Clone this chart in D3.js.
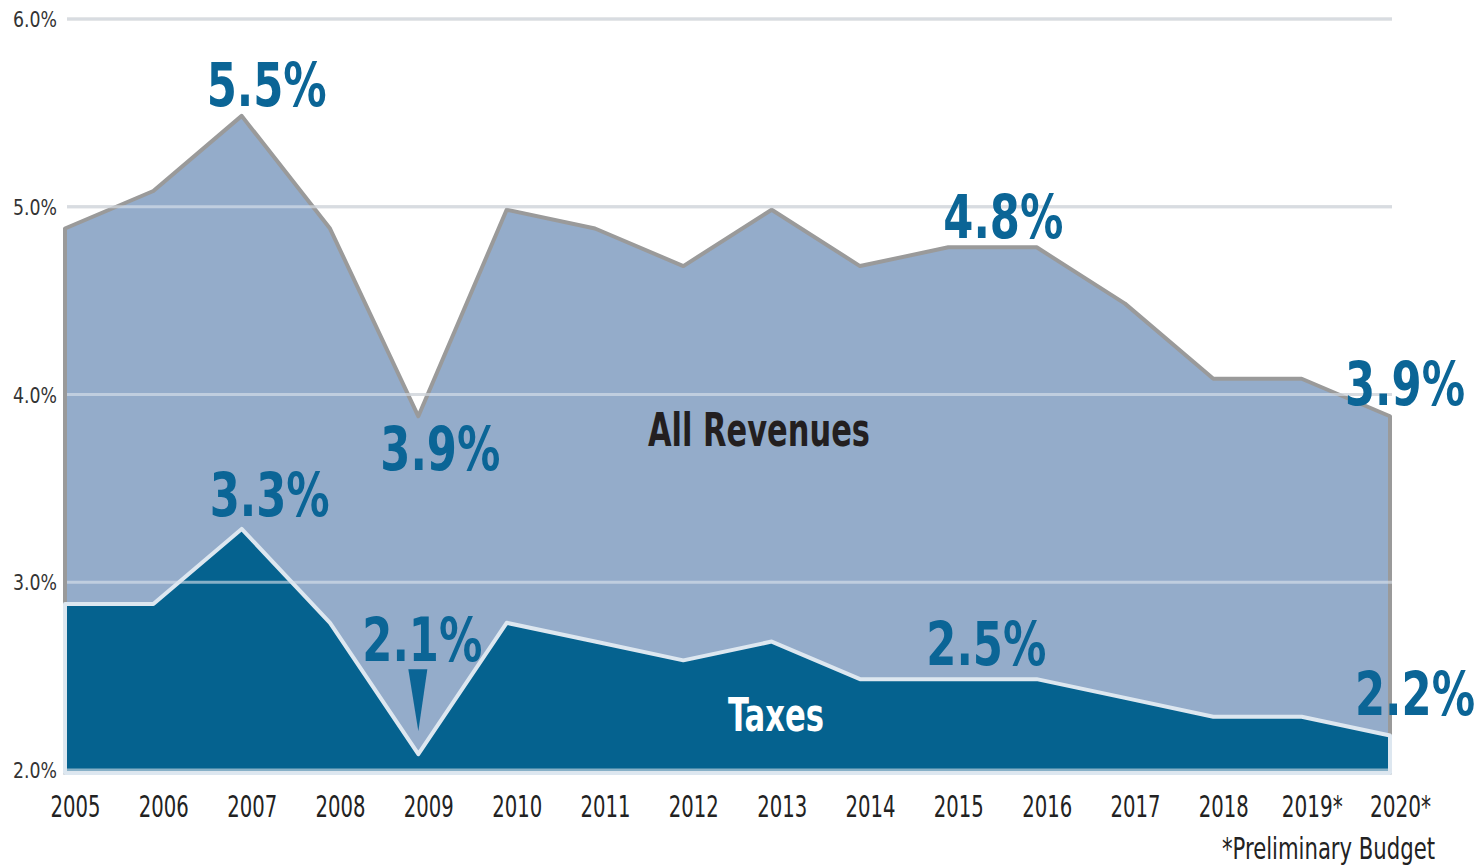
<!DOCTYPE html>
<html><head><meta charset="utf-8">
<script src="https://cdn.jsdelivr.net/npm/d3@7"></script>
<style>
body{margin:0;background:#fff;}
svg{display:block;}
text{font-family:"Liberation Sans Narrow","DejaVu Sans Condensed","Liberation Sans",sans-serif;}
</style></head>
<body>
<svg id="chart" width="1483" height="866"></svg>
<script>
const years = ["2005","2006","2007","2008","2009","2010","2011","2012","2013","2014","2015","2016","2017","2018","2019*","2020*"];
const allRevenues = [4.9,5.1,5.5,4.9,3.9,5.0,4.9,4.7,5.0,4.7,4.8,4.8,4.5,4.1,4.1,3.9];
const taxes = [2.9,2.9,3.3,2.8,2.1,2.8,2.7,2.6,2.7,2.5,2.5,2.5,2.4,2.3,2.3,2.2];
const yTicks = [2,3,4,5,6];
const revCallouts = [{i:2,text:"5.5%"},{i:10,text:"4.8%"},{i:4,text:"3.9%"},{i:15,text:"3.9%"}];
const taxCallouts = [{i:2,text:"3.3%"},{i:4,text:"2.1%"},{i:10,text:"2.5%"},{i:15,text:"2.2%"}];

const svg = d3.select("#chart");
const x = d3.scalePoint().domain(years).range([65,1390]);
const y = d3.scaleLinear().domain([2,6]).range([770,19]);

const area = (vals) => d3.area()
  .x((d,i)=>x(years[i])).y0(y(2)).y1(d=>y(d)).curve(d3.curveLinear)(vals);

// gridlines beneath (visible on white)
svg.append("g").selectAll("line").data(yTicks).join("line")
  .attr("x1",67).attr("x2",1392).attr("y1",d=>y(d)).attr("y2",d=>y(d))
  .attr("stroke","#cfcfcf").attr("stroke-width",3);

// areas (the original art sits a few pixels below its gridlines)
const areas = svg.append("g").attr("transform","translate(0,3)");
areas.append("path").attr("d",area(allRevenues))
  .attr("fill","#94acca").attr("stroke","#9a9a9a").attr("stroke-width",4).attr("stroke-linejoin","round");
areas.append("path").attr("d",area(taxes))
  .attr("fill","#05628f").attr("stroke","#dde7f0").attr("stroke-width",4).attr("stroke-linejoin","round");

// gridlines on top
svg.append("g").selectAll("line").data(yTicks).join("line")
  .attr("x1",67).attr("x2",1392).attr("y1",d=>y(d)).attr("y2",d=>y(d))
  .attr("stroke","#dde4ec").attr("stroke-opacity",0.6).attr("stroke-width",3);

// y axis labels
const yAxis = svg.append("g").attr("transform","translate(57,0)")
  .call(d3.axisLeft(y).tickValues(yTicks).tickSize(0).tickPadding(0).tickFormat(d=>d3.format(".1f")(d)+"%"));
yAxis.select(".domain").remove();
yAxis.selectAll("text").attr("font-size",21).attr("fill","#333").attr("font-family",null)
  .attr("dy","0.36em").attr("textLength",44).attr("lengthAdjust","spacingAndGlyphs");

// x axis labels
const xAxis = svg.append("g").attr("transform","translate(10,817)")
  .call(d3.axisBottom(x).tickSize(0).tickPadding(0));
xAxis.select(".domain").remove();
xAxis.selectAll("text").attr("font-size",31).attr("fill","#222").attr("font-family",null).attr("dy",0)
  .attr("textLength",d=>d.endsWith("*")?61:50).attr("lengthAdjust","spacingAndGlyphs");

svg.append("text").attr("x",1435).attr("y",859).attr("text-anchor","end")
  .attr("font-size",30).attr("fill","#222").attr("textLength",213).attr("lengthAdjust","spacingAndGlyphs")
  .text("*Preliminary Budget");

// callouts (offset from their data points)
const revOff = {2:[25,-7],10:[55,-6],4:[22,57],15:[15,-8]};
const taxOff = {2:[28,-10],4:[4,-90],10:[38,-11],15:[25,-17]};
function callouts(data, vals, off){
  svg.append("g").selectAll("text").data(data).join("text")
    .attr("x",d=>x(years[d.i])+off[d.i][0]).attr("y",d=>y(vals[d.i])+off[d.i][1])
    .attr("text-anchor","middle").attr("font-size",60).attr("font-weight","bold").attr("fill","#0b6596")
    .attr("textLength",120).attr("lengthAdjust","spacingAndGlyphs")
    .text(d=>d.text);
}
callouts(revCallouts, allRevenues, revOff);
callouts(taxCallouts, taxes, taxOff);

// pointer arrow under 2.1%
const ax = x("2009"), ay = y(2.1);
svg.append("path")
  .attr("d",`M${ax-10},${ay-82}L${ax+9},${ay-82}L${ax},${ay-20}Z`)
  .attr("fill","#0b6596");

// series names
svg.append("text").attr("x",759).attr("y",446).attr("text-anchor","middle")
  .attr("font-size",46).attr("font-weight","bold").attr("fill","#231f20")
  .attr("textLength",222).attr("lengthAdjust","spacingAndGlyphs").text("All Revenues");
svg.append("text").attr("x",776).attr("y",731).attr("text-anchor","middle")
  .attr("font-size",46).attr("font-weight","bold").attr("fill","#ffffff")
  .attr("textLength",96).attr("lengthAdjust","spacingAndGlyphs").text("Taxes");
</script>
</body></html>
